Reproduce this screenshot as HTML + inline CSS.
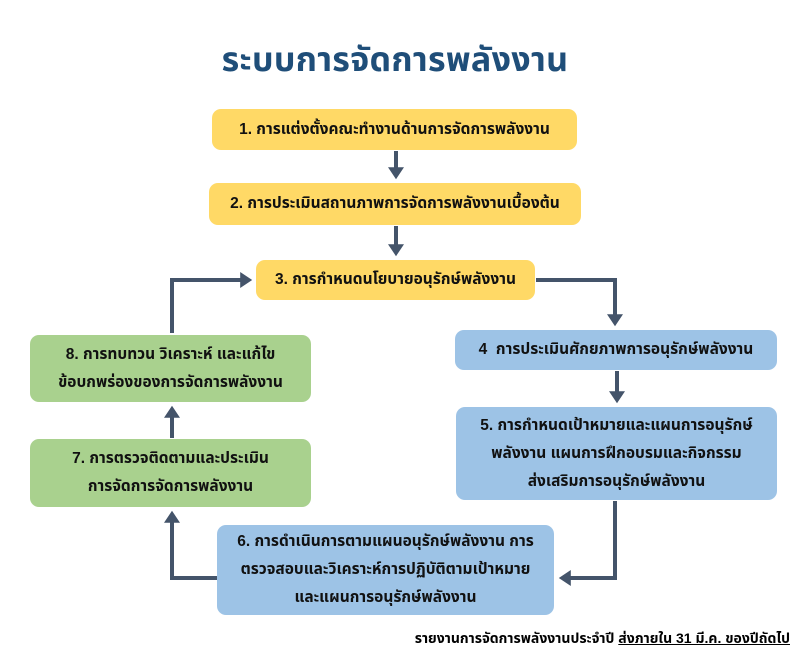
<!DOCTYPE html>
<html><head><meta charset="utf-8"><style>
body{margin:0;width:806px;height:654px;background:#fff;position:relative;overflow:hidden;font-family:"Liberation Sans","Noto Sans Thai","Tahoma",sans-serif;}
.t{position:absolute;left:0;width:790px;top:36px;text-align:center;font-size:34px;font-weight:bold;color:#1f4e79;letter-spacing:0.3px;}
.b{position:absolute;box-sizing:border-box;border-radius:9px;display:flex;align-items:center;justify-content:center;text-align:center;font-size:15.5px;font-weight:bold;color:#111;line-height:28px;}
.y{background:#ffd966}.bl{background:#9dc3e6}.g{background:#a9d18e}
.f{position:absolute;right:16px;top:629px;font-size:14px;font-weight:bold;color:#000;}
svg{position:absolute;left:0;top:0}
</style></head><body>
<div class="t">ระบบการจัดการพลังงาน</div>
<svg width="806" height="654">
<defs><marker id="a" markerWidth="4" markerHeight="4" refX="2.2" refY="2" orient="auto" markerUnits="strokeWidth"><path d="M0,0 L3,2 L0,4 z" fill="#44546a"/></marker></defs>
<g stroke="#44546a" stroke-width="4" fill="none" marker-end="url(#a)">
<path d="M396 151 V176"/>
<path d="M396 226 V253"/>
<path d="M536 280 H615 V323"/>
<path d="M617 371 V400"/>
<path d="M615 501 V578 H562"/>
<path d="M217 578 H172 V514"/>
<path d="M172 438 V409"/>
<path d="M172 333 V280 H249"/>
</g>
</svg>
<div class="b y" style="left:212px;top:109px;width:365px;height:41px">1. การแต่งตั้งคณะทำงานด้านการจัดการพลังงาน</div>
<div class="b y" style="left:209px;top:183px;width:372px;height:42px">2. การประเมินสถานภาพการจัดการพลังงานเบื้องต้น</div>
<div class="b y" style="left:256px;top:260px;width:279px;height:40px">3. การกำหนดนโยบายอนุรักษ์พลังงาน</div>
<div class="b bl" style="left:455px;top:330px;width:322px;height:40px">4&nbsp; การประเมินศักยภาพการอนุรักษ์พลังงาน</div>
<div class="b bl" style="left:456px;top:407px;width:321px;height:93px">5. การกำหนดเป้าหมายและแผนการอนุรักษ์<br>พลังงาน แผนการฝึกอบรมและกิจกรรม<br>ส่งเสริมการอนุรักษ์พลังงาน</div>
<div class="b bl" style="left:217px;top:525px;width:337px;height:90px">6. การดำเนินการตามแผนอนุรักษ์พลังงาน การ<br>ตรวจสอบและวิเคราะห์การปฏิบัติตามเป้าหมาย<br>และแผนการอนุรักษ์พลังงาน</div>
<div class="b g" style="left:30px;top:439px;width:281px;height:68px">7. การตรวจติดตามและประเมิน<br>การจัดการจัดการพลังงาน</div>
<div class="b g" style="left:30px;top:335px;width:281px;height:67px">8. การทบทวน วิเคราะห์ และแก้ไข<br>ข้อบกพร่องของการจัดการพลังงาน</div>
<div class="f">รายงานการจัดการพลังงานประจำปี <u>ส่งภายใน 31 มี.ค. ของปีถัดไป</u></div>
</body></html>
